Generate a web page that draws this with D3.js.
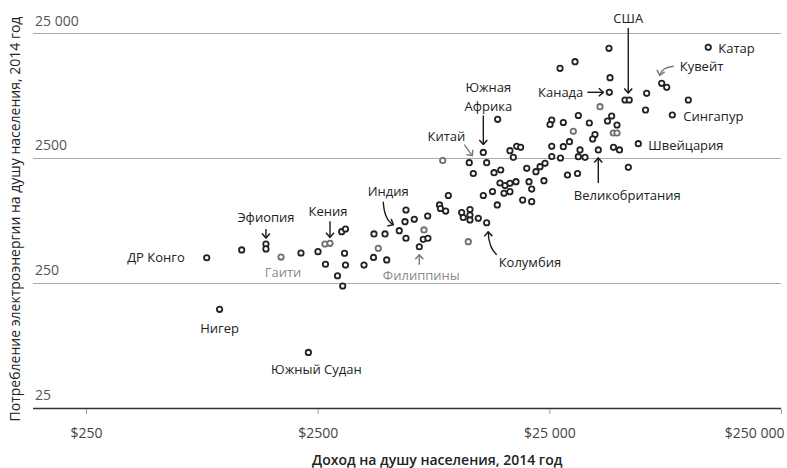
<!DOCTYPE html>
<html>
<head>
<meta charset="utf-8">
<script src="https://cdn.jsdelivr.net/npm/d3@7"></script>
<style>
  html, body { margin: 0; padding: 0; background: #fff; }
  svg { display: block; font-family: "Open Sans", "Noto Sans", sans-serif; }
</style>
</head>
<body>
<svg id="chart" width="787" height="468"></svg>
<script>
// ---------- DATA ----------
// Доход на душу населения (USD), потребление электроэнергии на душу (кВт·ч), 2014
const income = [
  830, 943, 2280, 1175, 1495, 1495, 2118, 2508, 3175, 3297, 3265, 2702, 3297, 3046, 3206,
  3962, 4355, 4965, 4375, 4882, 5625, 6013, 5955, 6013, 6530, 7462, 7142, 7480, 6865,
  8392, 8472, 9160, 8924, 10460, 10630, 11360, 11360, 11360, 12340, 13410,
  11740, 12970, 14210, 14900, 15310, 16100, 16900, 17950, 15930, 16900, 20430, 20980, 23700,
  19180, 20980, 14430, 15420, 19970, 21880, 22800, 23950,
  11280, 12970, 13410, 16900, 18080, 18800, 17480, 14960,
  45230, 27800, 32270, 45700, 45380, 53030, 55330, 65770, 65050,
  25610, 25170, 28730, 33350, 37200, 44550, 46450, 48980,
  39350, 38460, 30550, 28730, 25610, 33910, 33350, 35640, 40670, 47300, 50220, 60530,
  25610, 27930, 54820, 29940, 33080,
  121300, 76380, 80280, 99500, 84870
];
const electricity = [
  396, 153, 69, 457, 510, 466, 432, 443, 640, 673, 430, 351, 346, 284, 235,
  346, 398, 380, 614, 614, 652, 567, 770, 955, 805, 855, 556, 567, 485,
  1048, 982, 1248, 937, 912, 832, 964, 871, 794, 820, 755,
  1872, 1248, 1343, 1048, 1572, 1500, 1563, 1610, 1300, 1340, 1610, 1406, 1640,
  1148, 1114, 1900, 1998, 2061, 1935, 2123, 2260,
  2285, 2760, 2285, 2851, 3093, 3036, 2523, 5090,
  18850, 13030, 14730, 10960, 8375, 7265, 7265, 8222, 6040,
  5025, 4625, 4797, 5458, 4752, 4930, 5408, 4583,
  3845, 3540, 3366, 3071, 3093, 2890, 2553, 2523, 2890, 3036, 2890, 3245,
  2562, 2492, 2100, 1822, 1872,
  19210, 9885, 9183, 7265, 5508
];
// second (lighter) series
const mutedIncome      = [1737, 2688, 2826, 4567, 7192, 11170, 8662, 41360, 31730, 47210, 48980];
const mutedElectricity = [ 401,  510,  517,  471,  661,   532, 2380,  6423,  4080,  3953,  3953];

// annotated countries
const labelNames = ["ДР Конго", "Нигер", "Южный Судан", "Эфиопия", "Кения", "Гаити", "Индия",
  "Филиппины", "Колумбия", "Китай", "Южная Африка", "Канада", "США", "Катар", "Кувейт",
  "Сингапур", "Швейцария", "Великобритания"];
const labelIncome = [830, 943, 2280, 1495, 2826, 1737, 5625, 6865, 13410, 11280, 12970,
  45380, 55330, 121300, 76380, 84870, 60530, 40670];
const labelElectricity = [396, 153, 69, 510, 517, 401, 652, 485, 755, 2285, 2760,
  8375, 7265, 19210, 9885, 5508, 3245, 2890];

const xTicks = [250, 2500, 25000, 250000];
const xTickLabels = ["$250", "$2500", "$25 000", "$250 000"];
const yTicks = [25, 250, 2500, 25000];
const yTickLabels = ["25", "250", "2500", "25 000"];

const xTitle = "Доход на душу населения, 2014 год";
const yTitle = "Потребление электроэнергии на душу населения, 2014 год";

// ---------- DRAWING ----------
const svg = d3.select("#chart");
const left = 33, right = 781;
const x = d3.scaleLog().domain([250, 250000]).range([86, 781]);
const y = d3.scaleLog().domain([25, 25000]).range([407.5, 33]);

// markers
const defs = svg.append("defs");
function marker(id, color) {
  defs.append("marker").attr("id", id)
    .attr("viewBox", "-6 -5 7 10").attr("refX", 0).attr("refY", 0)
    .attr("markerWidth", 7).attr("markerHeight", 10)
    .attr("markerUnits", "userSpaceOnUse").attr("orient", "auto")
    .append("path").attr("d", "M-4.5,-4 L0,0 L-4.5,4")
    .attr("fill", "none").attr("stroke", color).attr("stroke-width", 1.5);
}
marker("arrowDark", "#1a1a1a");
marker("arrowGrey", "#7a7a7a");

// gridlines
svg.append("g").selectAll("line").data(yTicks).join("line")
  .attr("x1", left).attr("x2", right)
  .attr("y1", d => Math.round(y(d)) + 0.5).attr("y2", d => Math.round(y(d)) + 0.5)
  .attr("stroke", d => d === 25 ? "#333" : "#aaa")
  .attr("stroke-width", d => d === 25 ? 1.3 : 1);

// y tick labels
svg.append("g").selectAll("text").data(yTicks).join("text")
  .attr("x", 35).attr("y", d => y(d) - 7.5)
  .attr("font-size", 14).attr("fill", "#555")
  .text((d, i) => yTickLabels[i]);

// x axis ticks and labels
const xAxis = d3.axisBottom(x).tickValues(xTicks).tickSize(5).tickPadding(14)
  .tickFormat((d, i) => xTickLabels[i]);
const gx = svg.append("g").attr("transform", "translate(0,409)").call(xAxis);
gx.select(".domain").remove();
gx.selectAll(".tick line").attr("stroke", "#999");
gx.selectAll(".tick text").attr("font-size", 14).attr("fill", "#444")
  .attr("font-family", "Open Sans, Noto Sans, sans-serif")
  .attr("text-anchor", (d, i) => i === xTicks.length - 1 ? "end" : "middle")
  .attr("dx", (d, i) => i === xTicks.length - 1 ? 3 : 0);

// axis titles
svg.append("text").attr("x", 312).attr("y", 465)
  .attr("font-size", 14).attr("font-weight", 600).attr("fill", "#222")
  .text(xTitle);
svg.append("text").attr("transform", "translate(20,219) rotate(-90)")
  .attr("text-anchor", "middle").attr("font-size", 14).attr("fill", "#222")
  .text(yTitle);

// points
const pts = income.map((v, i) => ({ inc: v, el: electricity[i] }));
const mpts = mutedIncome.map((v, i) => ({ inc: v, el: mutedElectricity[i] }));
svg.append("g").selectAll("circle").data(mpts).join("circle")
  .attr("cx", d => x(d.inc)).attr("cy", d => y(d.el)).attr("r", 2.7)
  .attr("fill", "#fff").attr("stroke", "#6f6f6f").attr("stroke-width", 1.8);
svg.append("g").selectAll("circle").data(pts).join("circle")
  .attr("cx", d => x(d.inc)).attr("cy", d => y(d.el)).attr("r", 2.7)
  .attr("fill", "#fff").attr("stroke", "#222").attr("stroke-width", 1.8);

// annotation layout (pixel offsets from each labelled point)
const layout = {
  "ДР Конго":      { dx: -22, dy: 0, anchor: "end" },
  "Нигер":         { dx: 0, dy: 19, anchor: "middle" },
  "Южный Судан":   { dx: 8, dy: 17, anchor: "middle" },
  "Эфиопия":       { dx: 0, dy: -27, anchor: "middle", path: "M0,-15 L0,-6" },
  "Кения":         { dx: -2, dy: -32, anchor: "middle", path: "M0,-22 L0,-6" },
  "Гаити":         { dx: 2, dy: 15, anchor: "middle", grey: true },
  "Индия":         { dx: -11, dy: -39, anchor: "middle", path: "M-16,-29 Q-15,-11 -6,-6" },
  "Филиппины":     { dx: 2, dy: 29, anchor: "middle", grey: true, path: "M0,18 L0,8", greyArrow: true },
  "Колумбия":      { dx: 12, dy: 40, anchor: "start", path: "M10,32 Q2,25 1.5,9" },
  "Китай":         { dx: -4, dy: -26, anchor: "end", path: "M-5,-18 L3,-7", greyArrow: true },
  "Южная Африка":  { dx: 5, dy: -65, anchor: "middle", lines: ["Южная", "Африка"], path: "M0,-37 L0,-8" },
  "Канада":        { dx: -26, dy: 0, anchor: "end", path: "M-22,0 L-6,0" },
  "США":           { dx: -1, dy: -82, anchor: "middle", path: "M-1,-72 L-1,-7" },
  "Катар":         { dx: 10, dy: 1, anchor: "start" },
  "Кувейт":        { dx: 18, dy: -17, anchor: "start", path: "M12,-17 Q0,-16 -2,-8", greyArrow: true },
  "Сингапур":      { dx: 11, dy: 1.5, anchor: "start" },
  "Швейцария":     { dx: 10, dy: 1.3, anchor: "start" },
  "Великобритания":{ dx: 29, dy: 45, anchor: "middle", path: "M0,33 L0,8" }
};

const ann = svg.append("g");
labelNames.forEach((name, i) => {
  const px = x(labelIncome[i]), py = y(labelElectricity[i]);
  const L = layout[name];
  const g = ann.append("g").attr("transform", `translate(${px},${py})`);
  if (L.path) {
    g.append("path").attr("d", L.path).attr("fill", "none")
      .attr("stroke", L.greyArrow ? "#7a7a7a" : "#1a1a1a").attr("stroke-width", 1.4)
      .attr("marker-end", L.greyArrow ? "url(#arrowGrey)" : "url(#arrowDark)");
  }
  const lines = L.lines || [name];
  lines.forEach((t, k) => {
    g.append("text").attr("x", L.dx).attr("y", L.dy + k * 18.7)
      .attr("dy", "0.35em").attr("text-anchor", L.anchor)
      .attr("font-size", 13).attr("fill", L.grey ? "#8a8a8a" : "#222")
      .text(t);
  });
});
</script>
</body>
</html>
